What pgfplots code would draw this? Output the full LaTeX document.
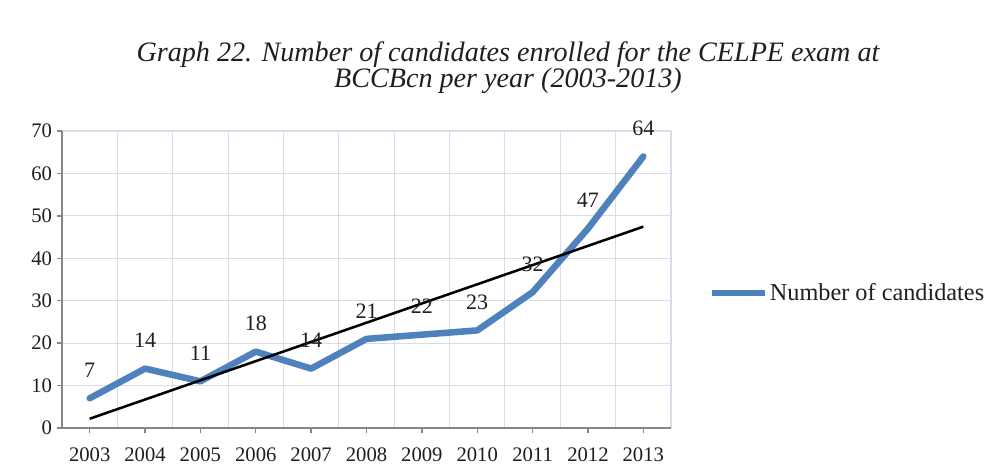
\documentclass[border=0pt]{standalone}
\usepackage{pgfplots}
\pgfplotsset{compat=1.18}
\usepackage{fontspec}
\setmainfont{Liberation Serif}
\definecolor{serblue}{RGB}{79,129,189}
\definecolor{axgray}{RGB}{134,134,134}
\definecolor{gridc}{RGB}{218,218,234}
\begin{document}
\begin{tikzpicture}[x=1pt,y=1pt]
\useasboundingbox (-46.5,-28.5) rectangle (699.75,321);
\node[font=\fontsize{21.1}{19.5}\selectfont\itshape, align=center, text=black!88] at (334.5,270)
  {Graph 22. Number of candidates enrolled for the CELPE exam at\\BCCBcn per year (2003-2013)};
\begin{axis}[
  at={(0,0)}, anchor=south west,
  width=456.75pt, height=222.75pt, scale only axis,
  xmin=-0.5, xmax=10.5, ymin=0, ymax=70,
  xtick={0,1,2,3,4,5,6,7,8,9,10},
  xticklabels={2003,2004,2005,2006,2007,2008,2009,2010,2011,2012,2013},
  minor xtick={-0.5,0.5,1.5,2.5,3.5,4.5,5.5,6.5,7.5,8.5,9.5,10.5},
  ytick={0,10,20,30,40,50,60,70},
  axis x line*=bottom, axis y line*=left,
  xmajorgrids=false, xminorgrids=true, ymajorgrids=true,
  grid style={gridc, line width=0.8pt},
  minor grid style={gridc, line width=0.8pt},
  axis line style={axgray, line width=1.3pt},
  tick align=outside,
  major tick length=4pt, minor tick length=0pt,
  tick style={axgray, line width=1pt},
  tick label style={font=\fontsize{15.5}{15.5}\selectfont, text=black!88},
  xticklabel style={yshift=-7pt},
  /pgf/number format/assume math mode=true,
  legend style={at={(rel axis cs:1.061,0.4545)}, anchor=west, draw=none, fill=none,
    font=\fontsize{18.2}{18.2}\selectfont, inner sep=0pt,
    nodes={inner sep=1.2pt, text=black!88}},
  legend image code/.code={\draw[#1, line cap=butt] (0pt,0pt) -- (40pt,0pt);},
  legend cell align=left,
  clip=false,
]
\addplot[serblue, line width=4.9pt, line join=round, line cap=round,
  nodes near coords, point meta=explicit symbolic,
  every node near coord/.append style={anchor=center, yshift=21pt, text=black!88, font=\fontsize{16.5}{16.5}\selectfont}]
  table[meta=v] {
  x y v
  0 7 7
  1 14 14
  2 11 11
  3 18 18
  4 14 14
  5 21 21
  6 22 22
  7 23 23
  8 32 32
  9 47 47
  10 64 64
};
\addlegendentry{Number of candidates}
\addplot[black, line width=1.9pt, forget plot] coordinates {(0,2.18) (10,47.45)};
\end{axis}
\end{tikzpicture}
\end{document}
